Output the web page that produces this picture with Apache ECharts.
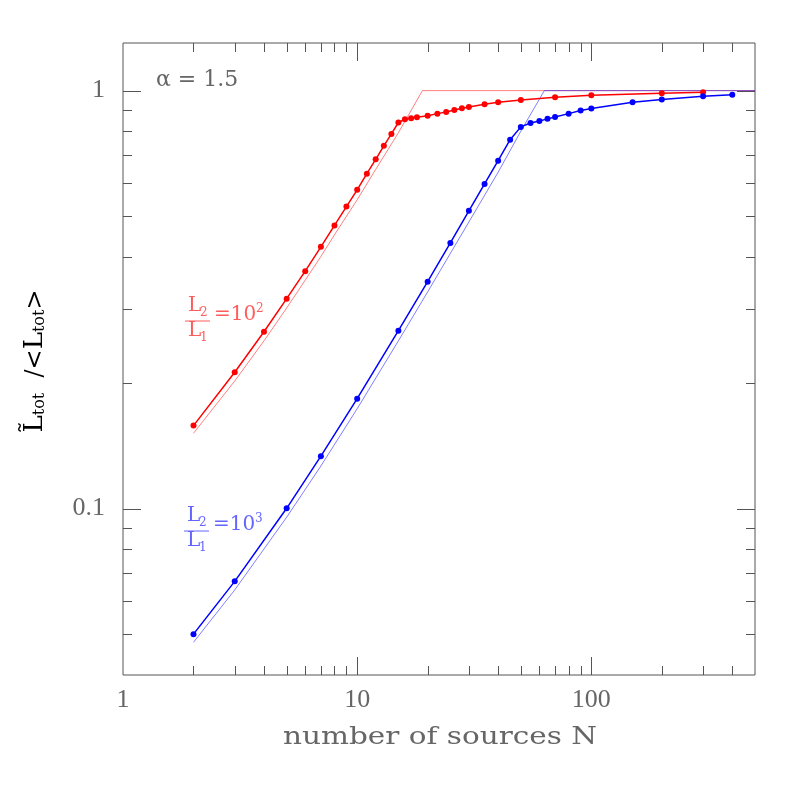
<!DOCTYPE html>
<html lang="en">
<head>
  <meta charset="UTF-8">
  <title>L tot ratio vs number of sources</title>
  <script src="https://cdn.jsdelivr.net/npm/echarts@6/dist/echarts.min.js"></script>
  <style>
    html, body { margin: 0; padding: 0; background: #fff; }
    #main { width: 797px; height: 797px; }
  </style>
</head>
<body>
  <div id="main"></div>
  <script>
    // axis ranges
    var X_MIN = 1, X_MAX = 500
    var Y_MIN = 0.04, Y_MAX = 1.3

    // tick positions (major = decades)
    var X_TICKS = [2, 3, 4, 5, 6, 7, 8, 9, 10, 20, 30, 40, 50, 60, 70, 80, 90, 100, 200, 300, 400]
    var Y_TICKS = [0.05, 0.06, 0.07, 0.08, 0.09, 0.1, 0.2, 0.3, 0.4, 0.5, 0.6, 0.7, 0.8, 0.9, 1]

    // L2/L1 = 10^2 : simulated points
    var redN = [2, 3, 4, 5, 6, 7, 8, 9, 10, 11, 12, 13, 14, 15, 16, 17, 18, 20, 22, 24, 26, 28, 30, 35, 40, 50, 70, 100, 200, 300]
    var redY = [0.158, 0.212, 0.265, 0.318, 0.370, 0.423, 0.476, 0.528, 0.579, 0.633, 0.685, 0.738, 0.788, 0.839, 0.854, 0.859, 0.864, 0.871, 0.881, 0.889, 0.899, 0.908, 0.914, 0.928, 0.938, 0.950, 0.964, 0.975, 0.986, 0.991]
    // L2/L1 = 10^2 : approximation (thin line)
    var redApproxN = [2, 3, 4, 5, 6, 7, 8, 10, 12, 15, 19, 500]
    var redApproxY = [0.1515, 0.202, 0.252, 0.302, 0.352, 0.401, 0.452, 0.548, 0.648, 0.793, 1.0, 1.0]

    // L2/L1 = 10^3 : simulated points
    var blueN = [2, 3, 5, 7, 10, 15, 20, 25, 30, 35, 40, 45, 50, 55, 60, 65, 70, 80, 90, 100, 150, 200, 300, 400]
    var blueY = [0.0501, 0.0670, 0.1002, 0.1335, 0.1833, 0.2666, 0.3492, 0.4321, 0.5157, 0.598, 0.680, 0.763, 0.819, 0.837, 0.846, 0.856, 0.865, 0.881, 0.896, 0.906, 0.938, 0.952, 0.970, 0.978]
    // L2/L1 = 10^3 : approximation (thin line)
    var blueApproxN = [2, 3, 5, 7, 10, 15, 20, 30, 40, 50, 63, 500]
    var blueApproxY = [0.0479, 0.0639, 0.0954, 0.1265, 0.1734, 0.252, 0.330, 0.485, 0.638, 0.800, 1.0, 1.0]

    var AXIS = '#555'
    var TXT = '#666'
    var RED = '#ff0000', BLUE = '#0000ff'
    var RED_TXT = '#ff5c5c', BLUE_TXT = '#6464ff'

    function pairs(xs, ys) {
      return xs.map(function (x, i) { return [x, ys[i]] })
    }

    function isDecade(v) {
      var l = Math.log10(v)
      return Math.abs(l - Math.round(l)) < 1e-9
    }

    function decadeLabel(v) {
      return isDecade(v) ? String(+v.toPrecision(6)) : ''
    }

    // ticks on all four sides, drawn through the axes
    function xTickItem(params, api) {
      var v = api.value(0)
      var len = isDecade(v) ? 18 : 9
      var b = api.coord([v, Y_MIN])
      var t = api.coord([v, Y_MAX])
      var x = Math.round(b[0]) + 0.5
      return {
        type: 'group',
        children: [
          { type: 'line', shape: { x1: x, y1: b[1], x2: x, y2: b[1] - len }, style: { stroke: AXIS, lineWidth: 1 } },
          { type: 'line', shape: { x1: x, y1: t[1], x2: x, y2: t[1] + len }, style: { stroke: AXIS, lineWidth: 1 } }
        ]
      }
    }

    function yTickItem(params, api) {
      var v = api.value(1)
      var len = isDecade(v) ? 18 : 9
      var l = api.coord([X_MIN, v])
      var r = api.coord([X_MAX, v])
      var y = Math.round(l[1]) + 0.5
      return {
        type: 'group',
        children: [
          { type: 'line', shape: { x1: l[0], y1: y, x2: l[0] + len, y2: y }, style: { stroke: AXIS, lineWidth: 1 } },
          { type: 'line', shape: { x1: r[0], y1: y, x2: r[0] - len, y2: y }, style: { stroke: AXIS, lineWidth: 1 } }
        ]
      }
    }

    // "L2 / L1 = 10^n" label
    function ratioLabel(x0, bar, color, exp) {
      var f = 'DejaVu Serif'
      function txt(x, y, s, size) {
        return { type: 'text', x: x, y: y, style: { text: s, fill: color, font: size + 'px "' + f + '"', align: 'left', verticalAlign: 'middle' } }
      }
      return {
        type: 'group',
        children: [
          txt(x0 + 3, bar - 15, 'L', 20),
          txt(x0 + 15, bar - 8, '2', 12),
          { type: 'line', shape: { x1: x0, y1: bar + 0.5, x2: x0 + 25, y2: bar + 0.5 }, style: { stroke: color, lineWidth: 1 } },
          txt(x0 + 3, bar + 10.5, 'L', 20),
          txt(x0 + 15, bar + 17, '1', 12),
          txt(x0 + 29, bar - 5.5, '=10', 20),
          txt(x0 + 71, bar - 12, exp, 12)
        ]
      }
    }

    var xTitle = 'number of sources N'
    var ctx = document.createElement('canvas').getContext('2d')
    ctx.font = '24px "DejaVu Serif"'
    var xTitleScale = 314 / ctx.measureText(xTitle).width

    var mCharts = echarts.init(document.getElementById('main'), null, { renderer: 'canvas' })

    var option = {
      animation: false,
      backgroundColor: '#fff',
      grid: {
        left: 123, right: 42, top: 43, bottom: 122,
        show: true, borderColor: AXIS, borderWidth: 1, backgroundColor: 'transparent'
      },
      xAxis: {
        type: 'log', logBase: 10, min: X_MIN, max: X_MAX,
        axisLine: { show: false },
        axisTick: { show: false },
        splitLine: { show: false },
        axisLabel: {
          formatter: decadeLabel, color: TXT,
          fontFamily: 'Liberation Serif', fontSize: 26, margin: 12
        }
      },
      yAxis: {
        type: 'log', logBase: 10, min: Y_MIN, max: Y_MAX,
        axisLine: { show: false },
        axisTick: { show: false },
        splitLine: { show: false },
        axisLabel: {
          formatter: decadeLabel, color: TXT,
          fontFamily: 'Liberation Serif', fontSize: 26, margin: 18
        }
      },
      graphic: [
        {
          type: 'text', x: 156, y: 80,
          style: { text: 'α = 1.5', fill: TXT, font: '22px "DejaVu Serif"', align: 'left', verticalAlign: 'middle' }
        },
        {
          type: 'text', x: 440, y: 738, scaleX: xTitleScale,
          style: { text: xTitle, fill: TXT, font: '24px "DejaVu Serif"', align: 'center', verticalAlign: 'middle' }
        },
        {
          type: 'text', x: 33, y: 361, rotation: Math.PI / 2,
          style: {
            text: '{L|L\u0303}{s|tot}{g|  /<}{L|L}{s|tot}{g|>}',
            align: 'center', verticalAlign: 'middle',
            rich: {
              L: { fontFamily: 'DejaVu Serif', fontSize: 26, color: TXT, lineHeight: 30, verticalAlign: 'bottom' },
              s: { fontFamily: 'DejaVu Serif', fontSize: 16, color: TXT, lineHeight: 20, verticalAlign: 'bottom' },
              g: { fontFamily: 'DejaVu Serif', fontSize: 24, color: TXT, lineHeight: 30, verticalAlign: 'bottom' }
            }
          }
        },
        ratioLabel(185, 320.5, RED_TXT, '2'),
        ratioLabel(184, 530.5, BLUE_TXT, '3')
      ],
      series: [
        {
          type: 'line', data: pairs(redApproxN, redApproxY), showSymbol: false, z: 2,
          lineStyle: { color: RED, width: 1, opacity: 0.5 }
        },
        {
          type: 'line', data: pairs(blueApproxN, blueApproxY), showSymbol: false, z: 2,
          lineStyle: { color: BLUE, width: 1, opacity: 0.5 }
        },
        {
          type: 'line', data: pairs(redN, redY), z: 3,
          symbol: 'circle', symbolSize: 6,
          itemStyle: { color: RED }, lineStyle: { color: RED, width: 1.5 }
        },
        {
          type: 'line', data: pairs(blueN, blueY), z: 3,
          symbol: 'circle', symbolSize: 6,
          itemStyle: { color: BLUE }, lineStyle: { color: BLUE, width: 1.5 }
        },
        {
          type: 'custom', renderItem: xTickItem, silent: true, z: 1,
          data: X_TICKS.map(function (v) { return [v, Y_MIN] })
        },
        {
          type: 'custom', renderItem: yTickItem, silent: true, z: 1,
          data: Y_TICKS.map(function (v) { return [X_MIN, v] })
        }
      ]
    }
    mCharts.setOption(option)
  </script>
</body>
</html>
